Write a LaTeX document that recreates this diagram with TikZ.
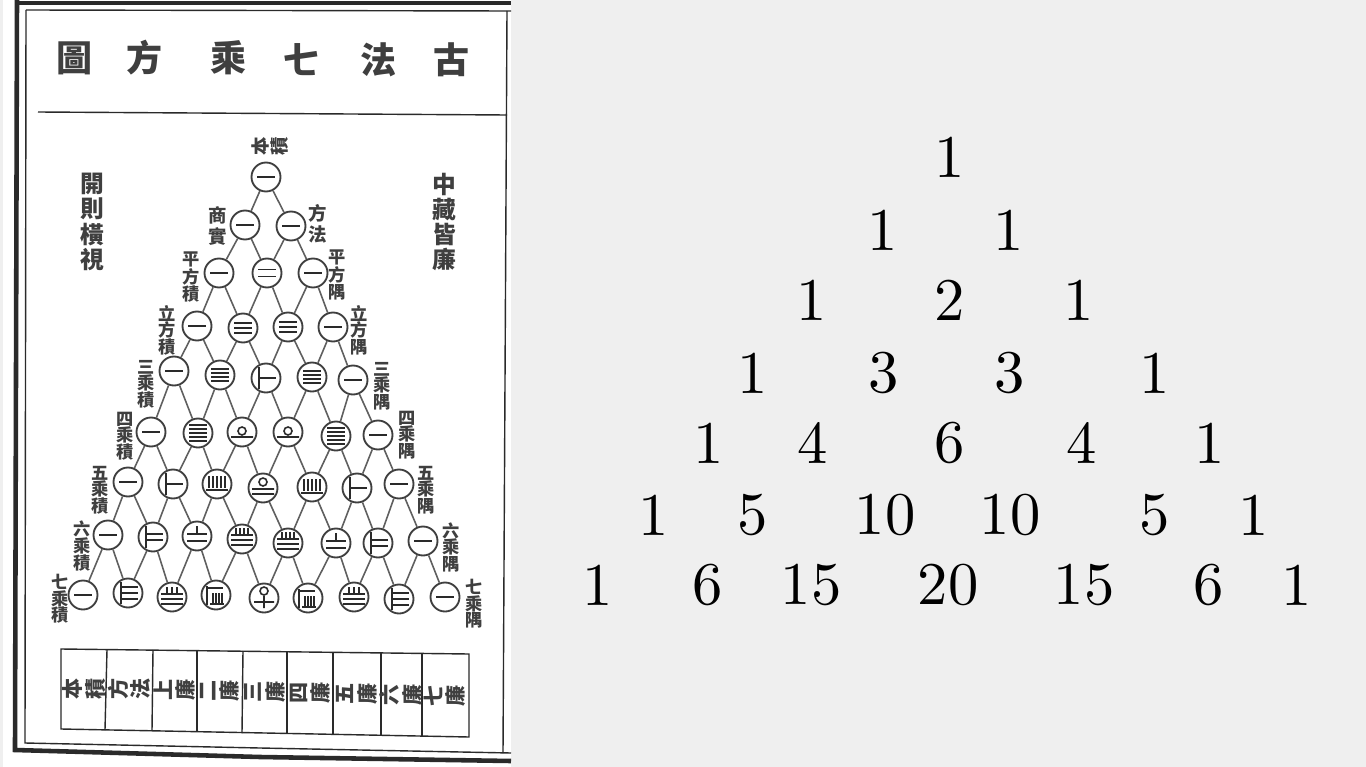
\documentclass[tikz,border=0pt]{standalone}
\usepackage{fontspec}
\usepackage{tikz}
\usetikzlibrary{positioning}
\newfontfamily\cjk{Noto Sans CJK TC}
\newfontfamily\numfont{lmroman10-regular.otf}
\definecolor{paper}{HTML}{EFEFEF}
\definecolor{ink}{HTML}{2A2A2A}

\begin{document}
\begin{tikzpicture}[
    x=0.02cm, y=-0.02cm,
    ring/.style={circle, draw=ink!90, line width=1.05pt, minimum size=0.58cm, inner sep=0pt},
    link/.style={draw=ink!75, line width=0.9pt},
    frame/.style={draw=ink, line width=0.8pt},
    rod/.style={draw=ink, line width=0.9pt},
    title/.style={font=\cjk\bfseries\fontsize{20.5}{22}\selectfont, text=ink!90, inner sep=0pt},
    side/.style={font=\cjk\bfseries\fontsize{13.5}{14.4}\selectfont, text=ink!90, align=center, inner sep=0pt},
    tag/.style={font=\cjk\bfseries\fontsize{9.8}{9.4}\selectfont, text=ink!90, align=center, inner sep=0pt},
    wide/.style={font=\cjk\bfseries\fontsize{10.5}{12.2}\selectfont, text=ink!90, align=center, inner sep=0pt},
    cell/.style={font=\cjk\bfseries\fontsize{12}{12.6}\selectfont, text=ink!90, align=center, inner sep=0pt, rotate=90},
    num/.style={font=\numfont\fontsize{34.5}{36}\selectfont, text=black, inner sep=0pt},
    rodone/.pic={\draw[rod] (-9,0) -- (9,0);},
    rodtwo/.pic={\draw[rod] (-9,-3.5) -- (9,-3.5) (-9,3.5) -- (9,3.5);},
    rodthree/.pic={\draw[rod] (-9,-5) -- (9,-5) (-9,0) -- (9,0) (-9,5) -- (9,5);},
    rodfour/.pic={\draw[rod] (-9,-6) -- (9,-6) (-9,-2) -- (9,-2) (-9,2) -- (9,2) (-9,6) -- (9,6);},
    rodfive/.pic={\draw[rod] (-9,-8) -- (9,-8) (-9,-4) -- (9,-4) (-9,0) -- (9,0) (-9,4) -- (9,4) (-9,8) -- (9,8);},
    rodsix/.pic={\draw[rod] (-7,-11) -- (-7,11) (-7,0) -- (10,0);},
    rodseven/.pic={\draw[rod] (-7,-11) -- (-7,11) (-7,-3) -- (10,-3) (-7,3) -- (10,3);},
    rodeight/.pic={\draw[rod] (-7,-11) -- (-7,11) (-7,-6) -- (10,-6) (-7,0) -- (10,0) (-7,6) -- (10,6);},
    rodten/.pic={\draw[rod] (0,-1) circle[radius=4] (-11,5) -- (11,5);},
    rodfifteen/.pic={\draw[rod] (-8,-8) -- (-8,4) (-4,-8) -- (-4,4) (0,-8) -- (0,4) (4,-8) -- (4,4) (8,-8) -- (8,4) (-11,6) -- (11,6);},
    rodtwenty/.pic={\draw[rod] (0,-6) circle[radius=4] (-11,1) -- (11,1) (-11,6) -- (11,6);},
    rodtwentyone/.pic={\draw[rod] (0,-10) -- (0,-2) (-10,-2) -- (10,-2) (-10,5) -- (10,5);},
    rodtwentyeight/.pic={\draw[rod] (-5,-10) -- (-5,-4) (0,-10) -- (0,-4) (5,-10) -- (5,-4) (-11,-3) -- (11,-3) (-11,2) -- (11,2) (-11,7) -- (11,7);},
    rodthirtyfive/.pic={\draw[rod] (-6,-11) -- (-6,-5) (-2,-11) -- (-2,-5) (2,-11) -- (2,-5) (6,-11) -- (6,-5) (-11,-4) -- (11,-4) (-11,1) -- (11,1) (-11,6) -- (11,6);},
    rodfiftysix/.pic={\draw[rod] (-9,-9) -- (-9,10) (-9,-7) -- (7,-7) (-3,-2) -- (-3,8) (0,-2) -- (0,8) (3,-2) -- (3,8) (6,-2) -- (6,8) (-6,9) -- (8,9);},
    rodseventy/.pic={\draw[rod] (0,-7) circle[radius=4] (0,-2) -- (0,10) (-10,4) -- (10,4);}
]
    % background
    \fill[paper] (0,0) rectangle (1366,767);
    \fill[white] (3,0) rectangle (511,767);
    \useasboundingbox (0,0) rectangle (1366,767);

    % page frame
    \draw[frame, line width=2.6pt] (17,0) -- (15,750) -- (260,757) -- (511,761);
    \draw[frame, line width=1.8pt] (15,3) -- (511,3);
    \draw[frame] (26,10) -- (511,11);
    \draw[frame] (26,10) -- (25,743) -- (260,748) -- (511,753);
    \draw[frame] (507,11) -- (503,753);
    \draw[frame] (38,112) -- (507,115);

    % title
    \node[title] (t1) at (75,58) {圖};
    \node[title] (t2) at (145,58) {方};
    \node[title] (t3) at (229,58) {乘};
    \node[title] (t4) at (302,60) {七};
    \node[title] (t5) at (379,60) {法};
    \node[title] (t6) at (452,60) {古};

    % side notes
    \node[side] (noteL) at (92,222) {開\\則\\橫\\視};
    \node[side] (noteR) at (444,222) {中\\藏\\皆\\廉};

    % circles
    \node[ring] (n00) at (266,177) {}; \pic at (n00) {rodone};

    \node[ring] (n10) at (245,225) {}; \pic at (n10) {rodone};
    \node[ring] (n11) at (291,226) {}; \pic at (n11) {rodone};

    \node[ring] (n20) at (219,273) {}; \pic at (n20) {rodone};
    \node[ring] (n21) at (267,273) {}; \pic at (n21) {rodtwo};
    \node[ring] (n22) at (313,273) {}; \pic at (n22) {rodone};

    \node[ring] (n30) at (197,326) {}; \pic at (n30) {rodone};
    \node[ring] (n31) at (243,328) {}; \pic at (n31) {rodthree};
    \node[ring] (n32) at (288,327) {}; \pic at (n32) {rodthree};
    \node[ring] (n33) at (333,327) {}; \pic at (n33) {rodone};

    \node[ring] (n40) at (174,371) {}; \pic at (n40) {rodone};
    \node[ring] (n41) at (220,375) {}; \pic at (n41) {rodfour};
    \node[ring] (n42) at (266,378) {}; \pic at (n42) {rodsix};
    \node[ring] (n43) at (312,377) {}; \pic at (n43) {rodfour};
    \node[ring] (n44) at (353,380) {}; \pic at (n44) {rodone};

    \node[ring] (n50) at (151,432) {}; \pic at (n50) {rodone};
    \node[ring] (n51) at (198,433) {}; \pic at (n51) {rodfive};
    \node[ring] (n52) at (242,432) {}; \pic at (n52) {rodten};
    \node[ring] (n53) at (288,432) {}; \pic at (n53) {rodten};
    \node[ring] (n54) at (336,436) {}; \pic at (n54) {rodfive};
    \node[ring] (n55) at (378,435) {}; \pic at (n55) {rodone};

    \node[ring] (n60) at (128,482) {}; \pic at (n60) {rodone};
    \node[ring] (n61) at (173,484) {}; \pic at (n61) {rodsix};
    \node[ring] (n62) at (217,484) {}; \pic at (n62) {rodfifteen};
    \node[ring] (n63) at (263,488) {}; \pic at (n63) {rodtwenty};
    \node[ring] (n64) at (312,487) {}; \pic at (n64) {rodfifteen};
    \node[ring] (n65) at (357,488) {}; \pic at (n65) {rodsix};
    \node[ring] (n66) at (399,484) {}; \pic at (n66) {rodone};

    \node[ring] (n70) at (108,535) {}; \pic at (n70) {rodone};
    \node[ring] (n71) at (153,537) {}; \pic at (n71) {rodseven};
    \node[ring] (n72) at (197,536) {}; \pic at (n72) {rodtwentyone};
    \node[ring] (n73) at (242,539) {}; \pic at (n73) {rodthirtyfive};
    \node[ring] (n74) at (288,543) {}; \pic at (n74) {rodthirtyfive};
    \node[ring] (n75) at (336,543) {}; \pic at (n75) {rodtwentyone};
    \node[ring] (n76) at (378,543) {}; \pic at (n76) {rodseven};
    \node[ring] (n77) at (423,541) {}; \pic at (n77) {rodone};

    \node[ring] (n80) at (83,595) {}; \pic at (n80) {rodone};
    \node[ring] (n81) at (128,593) {}; \pic at (n81) {rodeight};
    \node[ring] (n82) at (172,597) {}; \pic at (n82) {rodtwentyeight};
    \node[ring] (n83) at (216,595) {}; \pic at (n83) {rodfiftysix};
    \node[ring] (n84) at (264,598) {}; \pic at (n84) {rodseventy};
    \node[ring] (n85) at (308,598) {}; \pic at (n85) {rodfiftysix};
    \node[ring] (n86) at (354,597) {}; \pic at (n86) {rodtwentyeight};
    \node[ring] (n87) at (399,599) {}; \pic at (n87) {rodeight};
    \node[ring] (n88) at (445,597) {}; \pic at (n88) {rodone};

    % links between rows
    \draw[link] (n10) -- (n00) -- (n11);
    \draw[link] (n20) -- (n10) -- (n21) -- (n11) -- (n22);
    \draw[link] (n30) -- (n20) -- (n31) -- (n21) -- (n32) -- (n22) -- (n33);
    \draw[link] (n40) -- (n30) -- (n41) -- (n31) -- (n42) -- (n32) -- (n43) -- (n33) -- (n44);
    \draw[link] (n50) -- (n40) -- (n51) -- (n41) -- (n52) -- (n42) -- (n53) -- (n43) -- (n54) -- (n44) -- (n55);
    \draw[link] (n60) -- (n50) -- (n61) -- (n51) -- (n62) -- (n52) -- (n63) -- (n53) -- (n64) -- (n54) -- (n65) -- (n55) -- (n66);
    \draw[link] (n70) -- (n60) -- (n71) -- (n61) -- (n72) -- (n62) -- (n73) -- (n63) -- (n74) -- (n64) -- (n75) -- (n65) -- (n76) -- (n66) -- (n77);
    \draw[link] (n80) -- (n70) -- (n81) -- (n71) -- (n82) -- (n72) -- (n83) -- (n73) -- (n84) -- (n74) -- (n85) -- (n75) -- (n86) -- (n76) -- (n87) -- (n77) -- (n88);

    % labels beside the circles
    \node[cell, font=\cjk\bfseries\fontsize{10.5}{11}\selectfont] (top) at (270,146) {本\\積};
    \node[wide] (lab1) at (218,226) {商\\實};
    \node[wide] (lab2) at (318,224) {方\\法};
    \node[tag] (lab3) at (191,277) {平\\方\\積};
    \node[tag] (lab4) at (337,275) {平\\方\\隅};
    \node[tag] (lab5) at (167,330) {立\\方\\積};
    \node[tag] (lab6) at (359,330) {立\\方\\隅};
    \node[tag] (lab7) at (146,384) {三\\乘\\積};
    \node[tag] (lab8) at (382,386) {三\\乘\\隅};
    \node[tag] (lab9) at (125,436) {四\\乘\\積};
    \node[tag] (lab10) at (407,435) {四\\乘\\隅};
    \node[tag] (lab11) at (100,490) {五\\乘\\積};
    \node[tag] (lab12) at (426,490) {五\\乘\\隅};
    \node[tag] (lab13) at (82,546) {六\\乘\\積};
    \node[tag] (lab14) at (451,547) {六\\乘\\隅};
    \node[tag] (lab15) at (60,599) {七\\乘\\積};
    \node[tag] (lab16) at (474,604) {七\\乘\\隅};

    % table at the foot
    \draw[frame] (61,649) -- (469,654) -- (469,737) -- (61,729) -- cycle;
    \draw[frame] (107,650) -- (105,730);
    \draw[frame] (153,650) -- (152,731);
    \draw[frame] (197,651) -- (197,732);
    \draw[frame] (243,651) -- (242,733);
    \draw[frame] (287,652) -- (287,733);
    \draw[frame] (333,652) -- (333,734);
    \draw[frame] (381,653) -- (381,735);
    \draw[frame] (422,653) -- (422,736);
    \node[cell] (c1) at (84,689) {本\\積};
    \node[cell] (c2) at (129,689) {方\\法};
    \node[cell] (c3) at (175,690) {上\\廉};
    \node[cell] (c4) at (220,691) {二\\廉};
    \node[cell] (c5) at (265,692) {三\\廉};
    \node[cell] (c6) at (310,693) {四\\廉};
    \node[cell] (c7) at (357,694) {五\\廉};
    \node[cell] (c8) at (401,695) {六\\廉};
    \node[cell] (c9) at (445,696) {七\\廉};

    % triangle of numbers
    \node[num] (a00) at (950,157) {1};

    \node[num] (a10) at (883,230) {1};
    \node[num] (a11) at (1009,230) {1};

    \node[num] (a20) at (812,300) {1};
    \node[num] (a21) at (950,300) {2};
    \node[num] (a22) at (1079,300) {1};

    \node[num] (a30) at (753,373) {1};
    \node[num] (a31) at (884,373) {3};
    \node[num] (a32) at (1010,373) {3};
    \node[num] (a33) at (1155,373) {1};

    \node[num] (a40) at (709,443) {1};
    \node[num] (a41) at (813,443) {4};
    \node[num] (a42) at (950,443) {6};
    \node[num] (a43) at (1082,443) {4};
    \node[num] (a44) at (1210,443) {1};

    \node[num] (a50) at (654,515) {1};
    \node[num] (a51) at (753,515) {5};
    \node[num] (a52) at (885,515) {10};
    \node[num] (a53) at (1010,515) {10};
    \node[num] (a54) at (1155,515) {5};
    \node[num] (a55) at (1254,515) {1};

    \node[num] (a60) at (598,585) {1};
    \node[num] (a61) at (708,585) {6};
    \node[num] (a62) at (811,585) {15};
    \node[num] (a63) at (948,585) {20};
    \node[num] (a64) at (1084,585) {15};
    \node[num] (a65) at (1209,585) {6};
    \node[num] (a66) at (1297,585) {1};
\end{tikzpicture}
\end{document}
